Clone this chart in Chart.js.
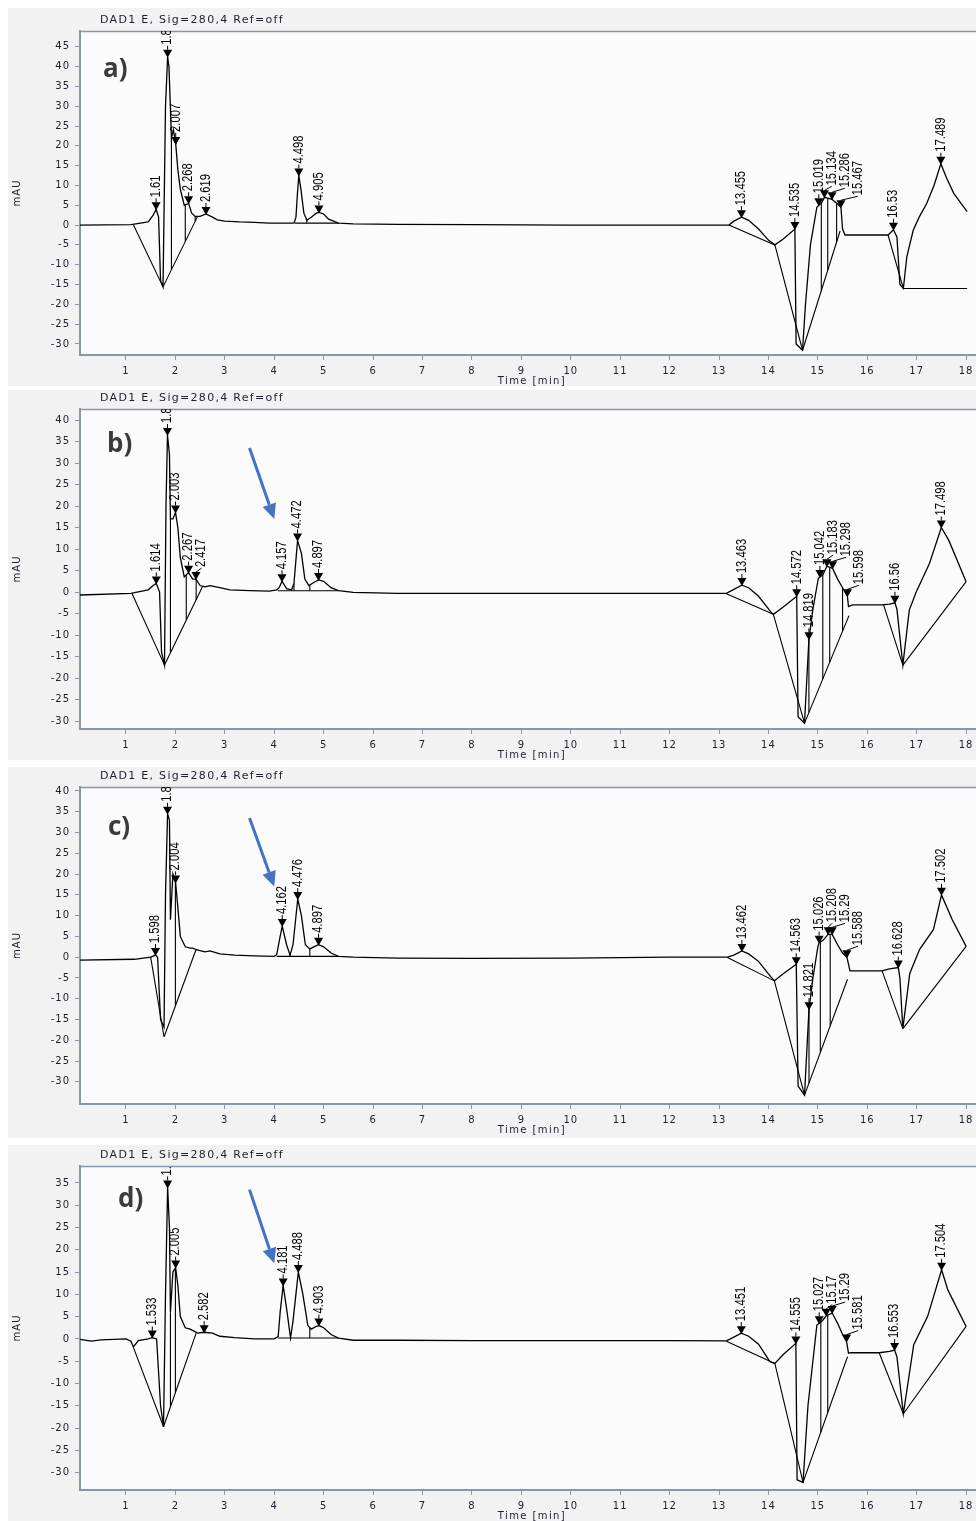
<!DOCTYPE html>
<html>
<head>
<meta charset="utf-8">
<script src="https://cdn.jsdelivr.net/npm/chart.js@4.4.1/dist/chart.umd.min.js"></script>
<style>
  body { margin: 0; background: #fff; width: 976px; height: 1521px; position: relative; overflow: hidden; }
  .panel { position: absolute; left: 8px; width: 968px; background: #f2f2f2; }
  canvas { display: block; }
</style>
</head>
<body>
<div class="panel" style="top:8px;height:378px"><canvas id="ca"></canvas></div>
<div class="panel" style="top:390px;height:370px"><canvas id="cb"></canvas></div>
<div class="panel" style="top:767px;height:371px"><canvas id="cc"></canvas></div>
<div class="panel" style="top:1145px;height:376px"><canvas id="cd"></canvas></div>
<script>
// shared axis ticks
const xTicks = [1, 2, 3, 4, 5, 6, 7, 8, 9, 10, 11, 12, 13, 14, 15, 16, 17, 18];
const xMin = 0.07, xMax = 18.2;
const title = 'DAD1 E, Sig=280,4 Ref=off';

// ---- a) ----
const aYTicks = [-30, -25, -20, -15, -10, -5, 0, 5, 10, 15, 20, 25, 30, 35, 40, 45];
const aTime = [0.07, 1.1, 1.2, 1.45, 1.55, 1.61, 1.66, 1.70, 1.75, 1.80, 1.843, 1.87, 1.89, 1.92, 1.96, 2.007, 2.05, 2.10, 2.18, 2.268, 2.33, 2.40, 2.5, 2.619, 2.75, 2.85, 3.0, 3.3, 3.6, 3.9, 4.2, 4.4, 4.44, 4.47, 4.498, 4.54, 4.60, 4.66, 4.75, 4.85, 4.905, 5.0, 5.1, 5.3, 5.6, 6.5, 8, 10, 12, 13.2, 13.3, 13.455, 13.6, 13.8, 14.0, 14.13, 14.3, 14.535, 14.56, 14.69, 14.75, 14.85, 14.98, 15.019, 15.07, 15.134, 15.2, 15.286, 15.38, 15.467, 15.50, 15.55, 16.0, 16.42, 16.53, 16.6, 16.66, 16.73, 16.8, 16.93, 17.05, 17.2, 17.35, 17.489, 17.6, 17.75, 18.02];
const aSignal = [0, 0.1, 0.3, 0.8, 2.5, 4.0, 2.0, -14, -15.6, 30, 42.5, 40, 33, 22, 24, 20.5, 14, 9, 5, 5.5, 3, 2.2, 2.2, 2.8, 2.0, 1.3, 1.0, 0.8, 0.7, 0.5, 0.5, 0.5, 2, 8, 12.5, 9, 3, 1.2, 2, 3, 3.2, 2.8, 1.5, 0.5, 0.3, 0.2, 0.1, 0, 0, 0, 1, 2, 1.2, -1, -3.8, -5, -3.5, -1, -30, -31.6, -20, -5, 4.5, 5, 5.5, 7, 6.8, 6.5, 5.5, 4.5, -1, -2.5, -2.5, -2.5, -1.2, -3, -15, -16, -8, -1.3, 2, 5.4, 10, 15.5, 12, 8, 3.4];
const aBase = [[1.15, 0.1, 1.75, -15.6], [1.75, -15.6, 2.45, 2.2], [4.42, 0.5, 5.3, 0.5], [13.2, 0, 14.13, -5], [14.13, -5, 14.69, -31.6], [14.69, -31.6, 15.45, -1.5], [16.42, -2.5, 16.73, -16], [16.73, -16, 18.02, -16]];
const aDrops = [1.92, 2.2, 2.4, 4.66, 15.07, 15.2, 15.38];
const aPeaks = [1.61, 1.843, 2.007, 2.268, 2.619, 4.498, 4.905, 13.455, 14.535, 15.019, 15.134, 15.286, 15.467, 16.53, 17.489];

// ---- b) ----
const bYTicks = [-30, -25, -20, -15, -10, -5, 0, 5, 10, 15, 20, 25, 30, 35, 40];
const bTime = [0.07, 1.1, 1.45, 1.55, 1.614, 1.68, 1.72, 1.78, 1.81, 1.84, 1.88, 1.90, 1.95, 2.003, 2.05, 2.10, 2.18, 2.267, 2.35, 2.417, 2.5, 2.6, 2.7, 2.9, 3.1, 3.5, 3.9, 4.05, 4.10, 4.157, 4.25, 4.35, 4.40, 4.472, 4.55, 4.62, 4.70, 4.80, 4.897, 5.0, 5.15, 5.3, 5.6, 6.5, 8, 10, 12, 13.15, 13.3, 13.463, 13.6, 13.8, 14.06, 14.1, 14.3, 14.572, 14.6, 14.73, 14.819, 14.9, 15.01, 15.042, 15.1, 15.183, 15.298, 15.4, 15.5, 15.598, 15.62, 15.7, 16.3, 16.45, 16.56, 16.6, 16.72, 16.85, 16.99, 17.26, 17.498, 17.65, 18.0];
const bSignal = [-0.7, -0.3, 0.5, 1.5, 2.0, 0, -14, -17, 20, 36.5, 32, 17, 17, 18.5, 15, 8, 3.5, 4.5, 3, 3, 1.5, 1.2, 1.5, 1.0, 0.5, 0.3, 0.2, 0.5, 1, 2.5, 0.8, 0.5, 2, 12, 9, 3, 1.5, 2.2, 2.8, 2.5, 1, 0.3, -0.1, -0.3, -0.3, -0.3, -0.3, -0.3, 0.6, 1.6, 1.0, -1.0, -4.8, -5.2, -3.5, -1.0, -29, -30.5, -11, -4, 3.2, 3.5, 4, 6, 5.5, 3, 1, -1, -3.4, -3, -3, -2.8, -2.5, -4, -17, -4.2, 0, 6.7, 15, 12, 2.4];
const bBase = [[1.12, -0.3, 1.78, -17], [1.78, -17, 2.55, 1.3], [4.07, 0.3, 5.3, 0.3], [13.15, -0.4, 14.1, -5.2], [14.1, -5.2, 14.73, -30.5], [14.73, -30.5, 15.63, -5.5], [16.33, -3, 16.72, -17], [16.72, -17, 18.0, 2.4]];
const bDrops = [1.9, 2.22, 2.42, 4.40, 4.72, 14.819, 15.1, 15.24, 15.5];
const bPeaks = [1.614, 1.84, 2.003, 2.267, 2.417, 4.157, 4.472, 4.897, 13.463, 14.572, 14.819, 15.042, 15.183, 15.298, 15.598, 16.56, 17.498];

// ---- c) ----
const cYTicks = [-30, -25, -20, -15, -10, -5, 0, 5, 10, 15, 20, 25, 30, 35, 40];
const cTime = [0.07, 1.17, 1.5, 1.598, 1.64, 1.70, 1.77, 1.80, 1.842, 1.88, 1.90, 1.95, 2.004, 2.05, 2.10, 2.2, 2.3, 2.35, 2.42, 2.6, 2.7, 2.9, 3.2, 3.6, 4.0, 4.05, 4.12, 4.162, 4.25, 4.32, 4.38, 4.476, 4.55, 4.63, 4.72, 4.8, 4.897, 5.0, 5.15, 5.3, 5.6, 6.5, 8, 10, 12, 13.17, 13.3, 13.462, 13.6, 13.8, 14.0, 14.12, 14.3, 14.563, 14.6, 14.73, 14.821, 14.9, 15.0, 15.026, 15.1, 15.208, 15.29, 15.4, 15.5, 15.588, 15.65, 15.73, 16.3, 16.45, 16.628, 16.66, 16.72, 16.86, 17.06, 17.34, 17.502, 17.72, 18.0];
const cSignal = [-0.7, -0.5, 0, 0.5, 0, -15, -16.8, 15, 34.5, 33, 9, 20, 18, 12, 5, 2.5, 2.2, 2.2, 1.8, 1.3, 1.5, 0.8, 0.5, 0.3, 0.2, 0.6, 5, 7.5, 3, 0.5, 3, 14, 10, 3, 2, 2.5, 3, 2.5, 1, 0.2, 0, -0.2, -0.3, -0.2, 0, 0, 0.5, 1.5, 0.8, -1, -4, -5.7, -4, -1.7, -31, -33.2, -12.5, -5, 2.5, 3.5, 4, 5.5, 5.5, 3, 1, 0, -3.3, -3.3, -3.3, -2.8, -2.5, -5, -17.2, -3.9, 1.9, 6.7, 15, 9, 2.6];
const cBase = [[1.5, 0, 1.77, -19.2], [1.77, -19.2, 2.42, 1.9], [4.05, 0.2, 5.3, 0.2], [13.17, -0.1, 14.12, -5.7], [14.12, -5.7, 14.73, -33.2], [14.73, -33.2, 15.6, -5.3], [16.3, -3.3, 16.72, -17.2], [16.72, -17.2, 18.0, 2.6]];
const cDrops = [2.0, 4.32, 4.72, 14.821, 15.05, 15.25];
const cPeaks = [1.598, 1.842, 2.004, 4.162, 4.476, 4.897, 13.462, 14.563, 14.821, 15.026, 15.208, 15.29, 15.588, 16.628, 17.502];

// ---- d) ----
const dYTicks = [-30, -25, -20, -15, -10, -5, 0, 5, 10, 15, 20, 25, 30, 35];
const dTime = [0.07, 0.3, 0.5, 1.0, 1.1, 1.15, 1.25, 1.45, 1.533, 1.62, 1.70, 1.76, 1.80, 1.843, 1.88, 1.90, 1.95, 2.005, 2.05, 2.10, 2.2, 2.3, 2.45, 2.582, 2.75, 2.9, 3.2, 3.6, 4.0, 4.08, 4.12, 4.181, 4.26, 4.33, 4.38, 4.488, 4.58, 4.68, 4.75, 4.83, 4.903, 5.0, 5.15, 5.3, 5.6, 6.5, 8, 10, 12, 13.15, 13.3, 13.451, 13.6, 13.8, 14.03, 14.13, 14.3, 14.555, 14.58, 14.7, 14.8, 14.98, 15.027, 15.1, 15.17, 15.29, 15.4, 15.5, 15.581, 15.62, 15.66, 16.24, 16.45, 16.553, 16.6, 16.73, 16.94, 17.22, 17.504, 17.63, 18.0];
const dSignal = [-0.1, -0.5, -0.2, 0, -0.5, -1.8, -0.4, 0, 0.3, 0, -15, -19.7, 10, 34, 25, 6, 15, 16, 12, 5, 2.5, 2.2, 1.3, 1.5, 1.3, 0.6, 0.3, 0, 0, 0.5, 6, 12, 6, 0.2, 4, 15, 10, 3, 2.2, 2.7, 3, 2.5, 1, 0.2, -0.3, -0.3, -0.4, -0.4, -0.4, -0.45, 0.4, 1.3, 0.6, -1.2, -5.1, -5.5, -3.5, -1.0, -31.6, -32.2, -15, 3.1, 3.5, 4.2, 5.2, 5.8, 3.5, 1, -0.6, -3.2, -3.1, -3.1, -2.8, -2.5, -4, -16.8, -1.3, 5, 15.5, 11, 2.8];
const dBase = [[1.15, -1.9, 1.76, -19.7], [1.76, -19.7, 2.42, 1.3], [4.08, 0.2, 5.3, 0.2], [13.15, -0.5, 14.13, -5.5], [14.13, -5.5, 14.7, -32.2], [14.7, -32.2, 15.6, -4], [16.24, -3.1, 16.73, -16.8], [16.73, -16.8, 18.0, 2.8]];
const dDrops = [1.9, 2.0, 4.33, 4.72, 15.06, 15.2];
const dPeaks = [1.533, 1.843, 2.005, 2.582, 4.181, 4.488, 4.903, 13.451, 14.555, 15.027, 15.17, 15.29, 15.581, 16.553, 17.504];

// blue arrow annotation (time, mAU)
const arrowFrom = [3.5, 33.5];
const arrowTo = [4.0, 17];

const axisColor = '#8b95aa';
const textColor = '#1e1e30';
const peakFont = '14px "Liberation Sans", Arial, sans-serif';

function interp(ts, vs, t) {
  if (t <= ts[0]) return vs[0];
  for (let i = 1; i < ts.length; i++) {
    if (ts[i] >= t) {
      const f = (t - ts[i - 1]) / (ts[i] - ts[i - 1]);
      return vs[i - 1] + f * (vs[i] - vs[i - 1]);
    }
  }
  return vs[vs.length - 1];
}

function baseAt(segs, t) {
  for (const s of segs) {
    if (t >= s[0] && t <= s[2]) return s[1] + (t - s[0]) / (s[2] - s[0]) * (s[3] - s[1]);
  }
  return null;
}

function drawArrow(ctx, x1, y1, x2, y2) {
  const ang = Math.atan2(y2 - y1, x2 - x1), hl = 15, hw = 7;
  const bx = x2 - hl * Math.cos(ang), by = y2 - hl * Math.sin(ang);
  ctx.strokeStyle = ctx.fillStyle = '#4472c4';
  ctx.lineWidth = 3;
  ctx.beginPath(); ctx.moveTo(x1, y1); ctx.lineTo(bx, by); ctx.stroke();
  ctx.beginPath();
  ctx.moveTo(x2, y2);
  ctx.lineTo(bx - hw * Math.sin(ang), by + hw * Math.cos(ang));
  ctx.lineTo(bx + hw * Math.sin(ang), by - hw * Math.cos(ang));
  ctx.closePath(); ctx.fill();
}

function makePanel(L, D) {
  const canvas = document.getElementById(L.id);
  canvas.width = 968;
  canvas.height = L.h;

  const sig = D.t.map((t, i) => ({ x: t, y: D.v[i] }));
  const base = [];
  D.base.forEach(s => base.push({ x: s[0], y: s[1] }, { x: s[2], y: s[3] }, { x: s[2], y: null }));
  const drops = [];
  D.drops.forEach(t => {
    const b = baseAt(D.base, t);
    if (b !== null) drops.push({ x: t, y: interp(D.t, D.v, t) }, { x: t, y: b }, { x: t, y: null });
  });

  const plugin = {
    id: 'deco' + L.id,
    beforeDraw(chart) {
      const { ctx, chartArea: a } = chart;
      ctx.save();
      ctx.fillStyle = '#fbfbfb';
      ctx.fillRect(a.left, a.top, a.width, a.height);
      ctx.restore();
      ctx.letterSpacing = '1px';
    },
    afterDraw(chart) {
      const { ctx, chartArea: a, scales: { x, y } } = chart;
      ctx.save();
      ctx.letterSpacing = '0px';

      // top frame line
      ctx.strokeStyle = axisColor;
      ctx.lineWidth = 1.5;
      ctx.beginPath(); ctx.moveTo(a.left - 1, a.top + 0.5); ctx.lineTo(a.right, a.top + 0.5); ctx.stroke();

      // peak markers and retention time labels
      ctx.save();
      ctx.beginPath(); ctx.rect(a.left, a.top, a.width, a.height); ctx.clip();
      ctx.font = peakFont;
      ctx.fillStyle = ctx.strokeStyle = '#000';
      ctx.lineWidth = 1;
      const placed = [];
      D.peaks.forEach(rt => {
        const mx = x.getPixelForValue(rt);
        const my = y.getPixelForValue(interp(D.t, D.v, rt));
        const text = String(rt);
        const w = ctx.measureText(text).width * 0.8;
        const yb = my - 12;
        let lx = mx;
        placed.forEach(p => {
          if (lx < p.x + 13 && yb > p.yb - p.w - 2 && yb - w - 2 < p.yb) lx = p.x + 13;
        });
        placed.push({ x: lx, yb: yb, w: w });
        ctx.beginPath();
        ctx.moveTo(mx - 4.5, my - 7); ctx.lineTo(mx + 4.5, my - 7); ctx.lineTo(mx, my + 1);
        ctx.closePath(); ctx.fill();
        ctx.beginPath(); ctx.moveTo(mx, my - 7); ctx.lineTo(lx, yb + 1); ctx.stroke();
        ctx.save();
        ctx.translate(lx, yb);
        ctx.rotate(-Math.PI / 2);
        ctx.scale(0.8, 1);
        ctx.textAlign = 'left';
        ctx.textBaseline = 'middle';
        ctx.fillText(text, 0, 0);
        ctx.restore();
      });
      ctx.restore();

      if (L.arrow) {
        drawArrow(ctx, x.getPixelForValue(arrowFrom[0]), y.getPixelForValue(arrowFrom[1]),
          x.getPixelForValue(arrowTo[0]), y.getPixelForValue(arrowTo[1]));
      }

      // panel letter
      ctx.fillStyle = '#3b3b3b';
      ctx.font = 'bold 26px "Open Sans", sans-serif';
      ctx.textAlign = 'left';
      ctx.textBaseline = 'middle';
      ctx.fillText(L.letter, a.left + L.lx, a.top + L.ly);

      // header, axis titles
      ctx.fillStyle = textColor;
      ctx.font = '11px "DejaVu Sans", sans-serif';
      ctx.letterSpacing = '1.3px';
      ctx.textAlign = 'left';
      ctx.fillText(title, a.left + 20, a.top - 11);

      ctx.font = '10px "DejaVu Sans", sans-serif';
      ctx.letterSpacing = '1.4px';
      ctx.textAlign = 'center';
      ctx.fillText('Time [min]', a.left + 452, a.bottom + 26);

      ctx.letterSpacing = '1px';
      ctx.translate(9, (a.top + a.bottom) / 2);
      ctx.rotate(-Math.PI / 2);
      ctx.fillText('mAU', 0, 0);
      ctx.restore();
    }
  };

  new Chart(canvas, {
    type: 'line',
    data: {
      datasets: [
        { data: sig, borderColor: '#000', borderWidth: 1.3 },
        { data: base, borderColor: '#000', borderWidth: 1.1, spanGaps: false },
        { data: drops, borderColor: '#000', borderWidth: 1.1, spanGaps: false }
      ]
    },
    options: {
      responsive: false,
      animation: false,
      events: [],
      layout: { padding: { top: L.plotTop - L.top, left: 0, right: 0, bottom: 0 } },
      elements: { point: { radius: 0 }, line: { tension: 0 } },
      plugins: { legend: { display: false }, tooltip: { enabled: false } },
      scales: {
        x: {
          type: 'linear',
          min: xMin,
          max: xMax,
          afterBuildTicks: s => { s.ticks = xTicks.map(v => ({ value: v })); },
          afterFit: s => { s.height = L.h - (L.plotBottom - L.top); s.paddingLeft = 0; s.paddingRight = 0; },
          grid: { drawOnChartArea: false, tickLength: 5, color: axisColor },
          border: { color: axisColor, width: 2 },
          ticks: { color: textColor, font: { family: 'DejaVu Sans', size: 10 }, padding: 5, maxRotation: 0, autoSkip: false }
        },
        y: {
          type: 'linear',
          min: L.yMin,
          max: L.yMax,
          afterBuildTicks: s => { s.ticks = D.yTicks.map(v => ({ value: v })); },
          afterFit: s => { s.width = 72; s.paddingTop = 0; s.paddingBottom = 0; },
          grid: { drawOnChartArea: false, tickLength: 5, color: axisColor },
          border: { color: axisColor, width: 2 },
          ticks: { color: textColor, font: { family: 'DejaVu Sans', size: 10 }, padding: 5, autoSkip: false }
        }
      }
    },
    plugins: [plugin]
  });
}

makePanel({ id: 'ca', top: 8, h: 378, plotTop: 31, plotBottom: 355, yMin: -32.8, yMax: 49, letter: 'a)', lx: 23, ly: 39, arrow: false },
  { t: aTime, v: aSignal, base: aBase, drops: aDrops, peaks: aPeaks, yTicks: aYTicks });
makePanel({ id: 'cb', top: 390, h: 370, plotTop: 409, plotBottom: 729, yMin: -31.86, yMax: 42.56, letter: 'b)', lx: 27, ly: 36, arrow: true },
  { t: bTime, v: bSignal, base: bBase, drops: bDrops, peaks: bPeaks, yTicks: bYTicks });
makePanel({ id: 'cc', top: 767, h: 371, plotTop: 787, plotBottom: 1104, yMin: -35.33, yMax: 40.96, letter: 'c)', lx: 28, ly: 41, arrow: true },
  { t: cTime, v: cSignal, base: cBase, drops: cDrops, peaks: cPeaks, yTicks: cYTicks });
makePanel({ id: 'cd', top: 1145, h: 376, plotTop: 1166, plotBottom: 1490, yMin: -33.9, yMax: 38.8, letter: 'd)', lx: 38, ly: 34, arrow: true },
  { t: dTime, v: dSignal, base: dBase, drops: dDrops, peaks: dPeaks, yTicks: dYTicks });
</script>
</body>
</html>
